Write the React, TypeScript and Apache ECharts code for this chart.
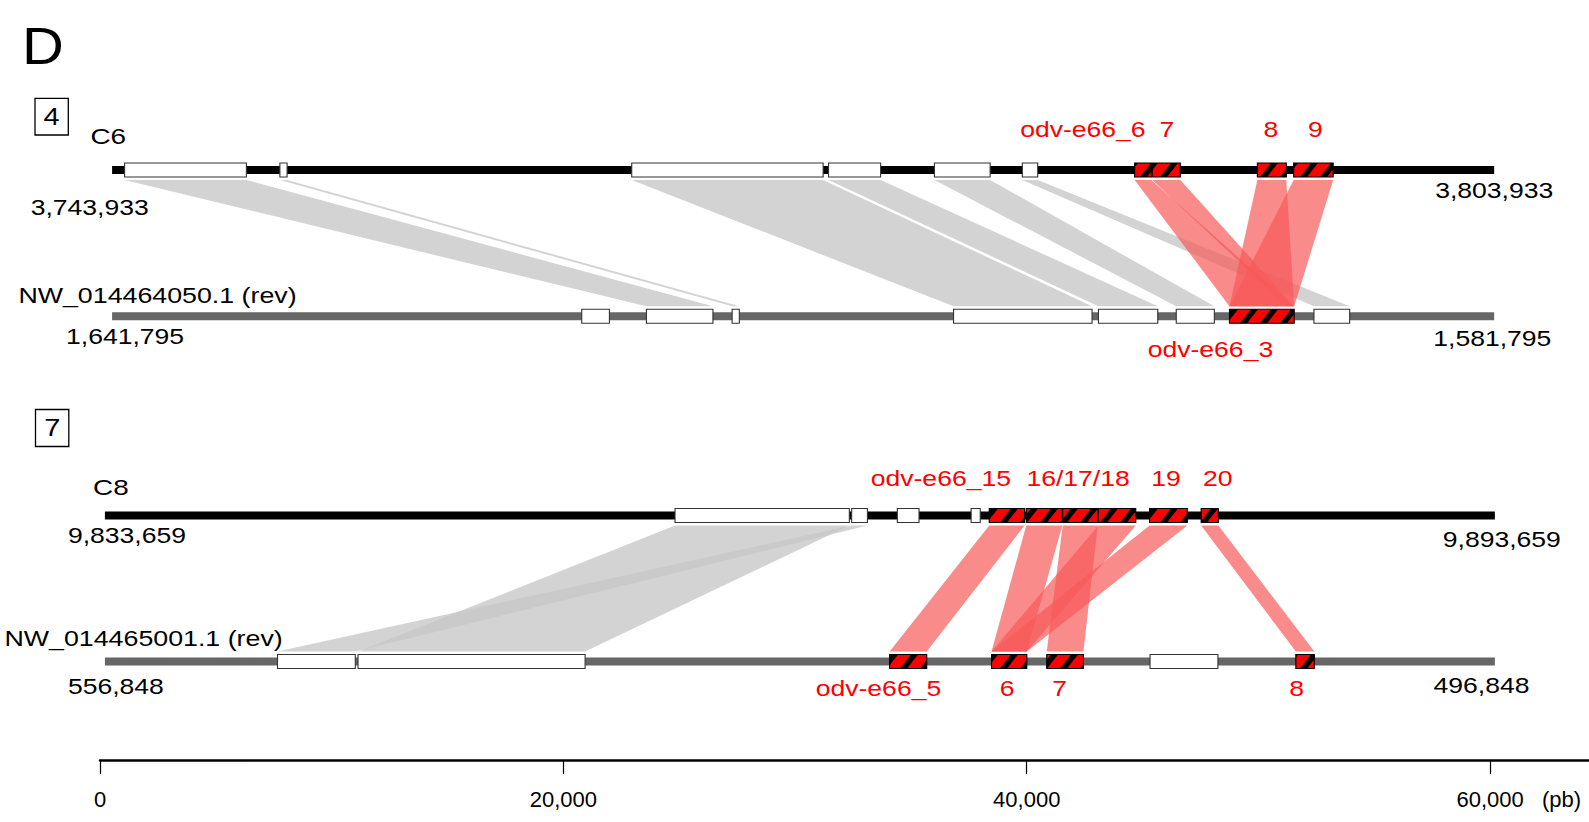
import { useEffect, useRef } from "react";
import * as echarts from "echarts";

// ---- Data (positions in bp along the 60 kb window) ----
const TRACK_NAMES = ["C6", "NW_014464050.1 (rev)", "C8", "NW_014465001.1 (rev)"];
const TRACK_LEVELS = [0, 1, 2.362, 3.36];
const TRACK_START = [522, 522, 212, 212];
const TRACK_END = [60176, 60176, 60207, 60207];
const TRACK_LEFT_COORD = ["3,743,933", "1,641,795", "9,833,659", "556,848"];
const TRACK_RIGHT_COORD = ["3,803,933", "1,581,795", "9,893,659", "496,848"];

// genes: [start, end]
const C6_GENES = [[1062, 6319], [7765, 8076], [22951, 31213], [31446, 33695], [36017, 38421], [39811, 40475]];
const C6_ODV = [[44658, 45379], [45417, 46630], [49955, 51206], [51522, 53227]];
const NW050_GENES = [[20792, 21988], [23585, 26456], [27284, 27595], [36842, 42820], [43096, 45656], [46454, 48099], [52398, 53939]];
const NW050_ODV = [[48751, 51546]];
const C8_GENES = [[24820, 32344], [32443, 33125], [34415, 35352], [37601, 37994]];
const C8_ODV = [[38382, 39906], [39979, 41537], [41555, 43066], [43092, 44707], [45301, 46933], [47530, 48272]];
const NW001_GENES = [[7662, 11020], [11137, 20939], [45323, 48254]];
const NW001_ODV = [[34083, 35684], [38481, 40004], [40864, 42448], [51617, 52415]];

// links: [upperStart, upperEnd, lowerStart, lowerEnd]
const PAIR1_GRAY = [[1062, 6319, 23585, 26456], [7765, 8076, 27284, 27595], [22951, 31213, 36842, 42820], [31446, 33695, 43096, 45656], [36017, 38421, 46454, 48099], [39811, 40475, 52398, 53939]];
const PAIR1_ODV = [[44658, 45379, 48751, 51510], [45417, 46630, 51220, 51546], [49955, 51206, 48751, 51546], [51522, 53227, 48751, 51546]];
const PAIR2_GRAY = [[24820, 32344, 11137, 20939], [32443, 33125, 7662, 11020]];
const PAIR2_ODV = [[38382, 39906, 34083, 35684], [39979, 41537, 38481, 40004], [41555, 43066, 40864, 42448], [43092, 44707, 38481, 40004], [45301, 46933, 38481, 40004], [47530, 48272, 51617, 52415]];

// odv-e66 labels: text and bp anchor per track
const C6_LABELS = ["odv-e66_6", "7", "8", "9"];
const C6_LABEL_AT = [42422, 46051, 50540, 52462];
const NW050_LABELS = ["odv-e66_3"];
const NW050_LABEL_AT = [47930];
const C8_LABELS = ["odv-e66_15", "16/17/18", "19", "20"];
const C8_LABEL_AT = [36293, 42215, 46007, 48241];
const NW001_LABELS = ["odv-e66_5", "6", "7", "8"];
const NW001_LABEL_AT = [33600, 39151, 41420, 51651];

const AXIS_TICKS = [0, 20000, 40000, 60000];

// ---- Styling ----
const FONT = "'Liberation Sans', Arial, Helvetica, sans-serif";
const TXT = 22.5;
const STRETCH = 1.18;
const NAME_STRETCH = [1.24, 1.19, 1.24, 1.19];
const RED = "#ff0000";
const TRACK_COLORS = ["#000000", "#666666", "#000000", "#666666"];
const LINK_GRAY = "rgba(200,200,200,0.8)";
const LINK_RED = "rgba(248,90,90,0.7)";
const LINE_HALF = 4;
const BOX_HALF = 7;
const LINK_GAP = 10;
const LABEL_DY = [-41, 32.5, -37.2, 26.8];
const STRIPE_PERIOD = 20;
const STRIPE_W = 7;
const STRIPE_SLANT = 11;
const Y_MAX = 4.033;

function clipX(pts: number[][], xmin: number, xmax: number): number[][] {
  const cut = (a: number[], b: number[], x: number) => {
    const t = (x - a[0]) / (b[0] - a[0]);
    return [x, a[1] + t * (b[1] - a[1])];
  };
  const pass = (p: number[][], inside: (q: number[]) => boolean, x: number) => {
    const out: number[][] = [];
    for (let i = 0; i < p.length; i++) {
      const cur = p[i];
      const prev = p[(i + p.length - 1) % p.length];
      const ci = inside(cur);
      const pi = inside(prev);
      if (ci) {
        if (!pi) out.push(cut(prev, cur, x));
        out.push(cur);
      } else if (pi) {
        out.push(cut(prev, cur, x));
      }
    }
    return out;
  };
  let r = pass(pts, (q) => q[0] >= xmin, xmin);
  if (r.length) r = pass(r, (q) => q[0] <= xmax, xmax);
  return r;
}

function buildOption() {
  const trackData = TRACK_NAMES.map((_, i) => [TRACK_START[i], TRACK_END[i], TRACK_LEVELS[i], i]);

  const geneData: number[][] = [];
  const addGenes = (list: number[][], track: number, kind: number) =>
    list.forEach(([s, e]) => geneData.push([s, e, TRACK_LEVELS[track], kind]));
  addGenes(C6_GENES, 0, 0);
  addGenes(NW050_GENES, 1, 0);
  addGenes(C8_GENES, 2, 0);
  addGenes(NW001_GENES, 3, 0);
  addGenes(C6_ODV, 0, 1);
  addGenes(NW050_ODV, 1, 1);
  addGenes(C8_ODV, 2, 1);
  addGenes(NW001_ODV, 3, 1);

  const linkData: number[][] = [];
  const addLinks = (list: number[][], up: number, low: number, kind: number) =>
    list.forEach((l) => linkData.push([l[0], l[1], l[2], l[3], TRACK_LEVELS[up], TRACK_LEVELS[low], kind]));
  addLinks(PAIR1_GRAY, 0, 1, 0);
  addLinks(PAIR2_GRAY, 2, 3, 0);
  addLinks(PAIR1_ODV, 0, 1, 1);
  addLinks(PAIR2_ODV, 2, 3, 1);

  const labelTexts: string[] = [];
  const labelData: number[][] = [];
  const addLabels = (texts: string[], at: number[], track: number) =>
    texts.forEach((t, i) => {
      labelTexts.push(t);
      labelData.push([at[i], TRACK_LEVELS[track], track]);
    });
  addLabels(C6_LABELS, C6_LABEL_AT, 0);
  addLabels(NW050_LABELS, NW050_LABEL_AT, 1);
  addLabels(C8_LABELS, C8_LABEL_AT, 2);
  addLabels(NW001_LABELS, NW001_LABEL_AT, 3);

  const text = (t: string, x: number, y: number, opts: any = {}) => ({
    type: "text",
    x,
    y,
    scaleX: opts.scaleX ?? STRETCH,
    style: {
      text: t,
      fill: opts.fill ?? "#000",
      fontSize: opts.fontSize ?? TXT,
      fontFamily: FONT,
      align: opts.align ?? "left",
      verticalAlign: "middle",
    },
  });

  // track names and coordinate labels (left x, vertical centre)
  const NAME_POS = [[90.4, 136], [18.4, 295.5], [93, 486.7], [4.5, 638.5]];
  const LEFT_POS = [[30.7, 207], [66, 336.7], [67.9, 535.5], [67.9, 685.8]];
  const RIGHT_POS = [[1435.2, 190], [1433.3, 338], [1442.8, 539], [1433.6, 685.5]];

  const graphics: any[] = [
    text("D", 22, 46.2, { fontSize: 52.6, scaleX: 1.1 }),
    { type: "rect", shape: { x: 35, y: 98.3, width: 33.3, height: 36.7 }, style: { fill: "none", stroke: "#000", lineWidth: 1.3 } },
    text("4", 51.6, 117.2, { fontSize: 24.5, align: "center" }),
    { type: "rect", shape: { x: 35.5, y: 409.5, width: 33.3, height: 37 }, style: { fill: "none", stroke: "#000", lineWidth: 1.3 } },
    text("7", 52.2, 427.8, { fontSize: 24.5, align: "center" }),
    text("(pb)", 1542, 799.5, { fontSize: 22, scaleX: 1 }),
  ];
  TRACK_NAMES.forEach((n, i) => {
    graphics.push(text(n, NAME_POS[i][0], NAME_POS[i][1], { scaleX: NAME_STRETCH[i] }));
    graphics.push(text(TRACK_LEFT_COORD[i], LEFT_POS[i][0], LEFT_POS[i][1]));
    graphics.push(text(TRACK_RIGHT_COORD[i], RIGHT_POS[i][0], RIGHT_POS[i][1]));
  });

  return {
    animation: false,
    backgroundColor: "#ffffff",
    grid: { left: 100, right: 0, top: 170, bottom: 62, outerBoundsMode: "none" },
    xAxis: {
      type: "value",
      min: 0,
      max: 64270,
      position: "bottom",
      splitLine: { show: false },
      axisLine: { show: true, onZero: false, lineStyle: { color: "#000", width: 2.5 } },
      axisTick: { show: true, length: 14, customValues: AXIS_TICKS, lineStyle: { color: "#000", width: 1.2 } },
      axisLabel: {
        customValues: AXIS_TICKS,
        color: "#000",
        fontSize: 22,
        fontFamily: FONT,
        margin: 28,
        formatter: (v: number) => v.toLocaleString("en-US"),
      },
    },
    yAxis: { type: "value", min: 0, max: Y_MAX, inverse: true, show: false },
    graphic: graphics,
    series: [
      {
        type: "custom",
        name: "links",
        data: linkData,
        silent: true,
        renderItem: (_p: any, api: any) => {
          const a = api.coord([api.value(0), api.value(4)]);
          const b = api.coord([api.value(1), api.value(4)]);
          const c = api.coord([api.value(3), api.value(5)]);
          const d = api.coord([api.value(2), api.value(5)]);
          const yT = a[1] + LINK_GAP;
          const yB = c[1] - LINK_GAP;
          return {
            type: "polygon",
            shape: { points: [[a[0], yT], [b[0], yT], [c[0], yB], [d[0], yB]] },
            style: { fill: api.value(6) === 1 ? LINK_RED : LINK_GRAY },
          };
        },
      },
      {
        type: "custom",
        name: "tracks",
        data: trackData,
        silent: true,
        renderItem: (_p: any, api: any) => {
          const s = api.coord([api.value(0), api.value(2)]);
          const e = api.coord([api.value(1), api.value(2)]);
          return {
            type: "rect",
            shape: { x: s[0], y: s[1] - LINE_HALF, width: e[0] - s[0], height: LINE_HALF * 2 },
            style: { fill: TRACK_COLORS[api.value(3)] },
          };
        },
      },
      {
        type: "custom",
        name: "genes",
        data: geneData,
        silent: true,
        renderItem: (_p: any, api: any) => {
          const s = api.coord([api.value(0), api.value(2)]);
          const e = api.coord([api.value(1), api.value(2)]);
          const x0 = s[0];
          const x1 = e[0];
          const yt = s[1] - BOX_HALF;
          const yb = s[1] + BOX_HALF;
          const odv = api.value(3) === 1;
          const shape = { x: x0, y: yt, width: x1 - x0, height: yb - yt };
          const children: any[] = [{ type: "rect", shape, style: { fill: odv ? RED : "#ffffff" } }];
          if (odv) {
            const kStart = Math.floor((x0 - STRIPE_SLANT - STRIPE_W) / STRIPE_PERIOD);
            const kEnd = Math.ceil(x1 / STRIPE_PERIOD);
            for (let k = kStart; k <= kEnd; k++) {
              const u = k * STRIPE_PERIOD;
              const poly = clipX(
                [[u, yb], [u + STRIPE_W, yb], [u + STRIPE_W + STRIPE_SLANT, yt], [u + STRIPE_SLANT, yt]],
                x0,
                x1
              );
              if (poly.length >= 3) children.push({ type: "polygon", shape: { points: poly }, style: { fill: "#000" } });
            }
          }
          children.push({
            type: "rect",
            shape,
            style: { fill: "none", stroke: odv ? "#000" : "#333333", lineWidth: 1.1 },
          });
          return { type: "group", children };
        },
      },
      {
        type: "custom",
        name: "odv labels",
        data: labelData,
        silent: true,
        renderItem: (p: any, api: any) => {
          const pt = api.coord([api.value(0), api.value(1)]);
          return {
            type: "text",
            x: pt[0],
            y: pt[1] + LABEL_DY[api.value(2)],
            scaleX: STRETCH,
            style: {
              text: labelTexts[p.dataIndex],
              fill: RED,
              fontSize: TXT,
              fontFamily: FONT,
              align: "center",
              verticalAlign: "middle",
            },
          };
        },
      },
    ],
  };
}

export default function App() {
  const ref = useRef<HTMLDivElement>(null);
  useEffect(() => {
    if (!ref.current) return;
    const chart = echarts.init(ref.current, null, { renderer: "svg" });
    chart.setOption(buildOption() as any);
    return () => chart.dispose();
  }, []);
  return (
    <div
      ref={ref}
      style={{ position: "fixed", left: 0, top: 0, width: 1589, height: 822, background: "#fff" }}
    />
  );
}
